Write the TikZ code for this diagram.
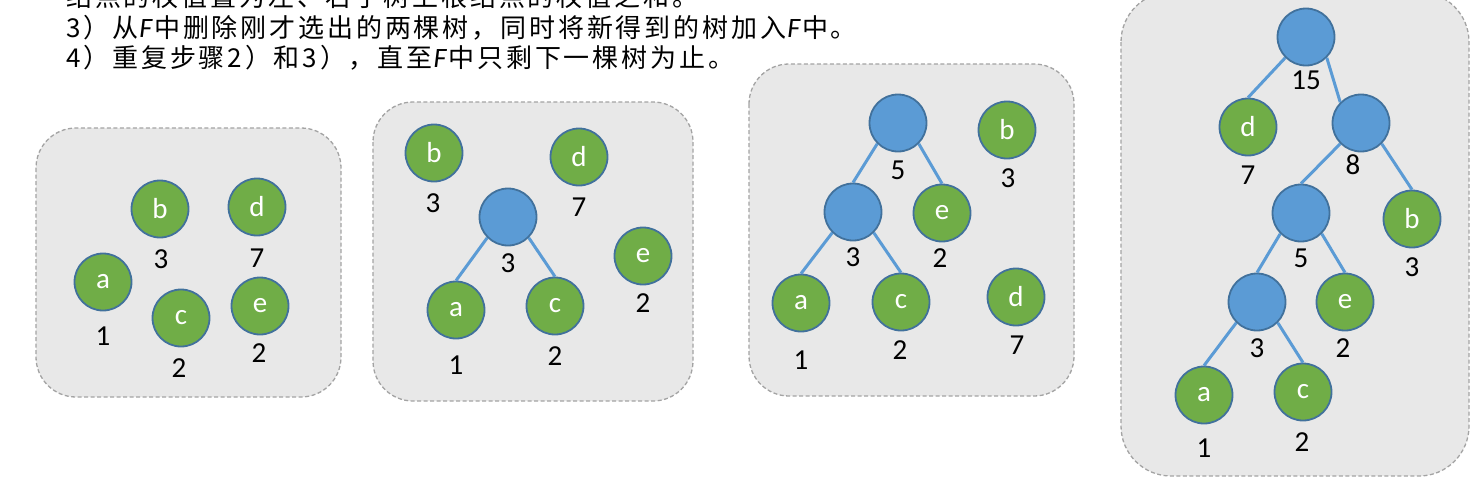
\documentclass[tikz,border=0pt]{standalone}
\usepackage{fontspec}
\setmainfont{Carlito}
\newfontfamily\cjk[LetterSpace=11]{Noto Sans CJK SC}
\newfontfamily\lat{Carlito}
\definecolor{panelfill}{HTML}{E8E8E8}
\definecolor{panelborder}{HTML}{A3A3A3}
\definecolor{leafgreen}{HTML}{70AD47}
\definecolor{nodeblue}{HTML}{5B9BD5}
\definecolor{nodeborder}{HTML}{41719C}
\tikzset{
  panel/.style={draw=panelborder, dash pattern=on 4pt off 2.5pt, line width=1.3pt, fill=panelfill, rounded corners=40pt},
  leaf/.style={circle, fill=leafgreen, draw=nodeborder, line width=1.8pt, minimum size=57pt, inner sep=0pt, text=white, font=\fontsize{29}{32}\selectfont},
  innernode/.style={leaf, fill=nodeblue},
  wt/.style={font=\fontsize{29}{32}\selectfont, text=black, inner sep=0pt},
  edge/.style={draw=nodeblue, line width=3pt},
  txt/.style={anchor=base west, inner sep=0pt, font=\fontsize{26}{30}\selectfont},
}
\newcommand{\itF}{\hspace{1pt}{\lat\fontsize{28}{30}\selectfont\itshape F}\hspace{2pt}}
\begin{document}
\begin{tikzpicture}[x=1pt, y=-1pt]
\clip (0,0) rectangle (1472,480);
\fill[white] (0,0) rectangle (1472,480);

% text lines
\node[txt] (t2) at (66,6) {\cjk 结点的权值置为左、右子树上根结点的权值之和。};
\node[txt] (t3) at (66,37) {\cjk 3）从\itF\cjk 中删除刚才选出的两棵树，同时将新得到的树加入\itF\cjk 中。};
\node[txt] (t4) at (66,67) {\cjk 4）重复步骤2）和3），直至\itF\cjk 中只剩下一棵树为止。};

% red mark
\fill[red] (1377,0) -- (1393,0) -- (1390,10) -- (1385,16) -- (1381,12) -- cycle;

% panels
\draw[panel] (36,128) rectangle (341,397);
\draw[panel] (373,102) rectangle (693,401);
\draw[panel] (749,64) rectangle (1074,396);
\draw[panel, rounded corners=50pt] (1121,-8) rectangle (1469,476);

% panel 1
\node[leaf] (p1b) at (160,209) {b};
\node[leaf] (p1d) at (257,207) {d};
\node[leaf] (p1a) at (103,282) {a};
\node[leaf] (p1c) at (181,318) {c};
\node[leaf] (p1e) at (260,306) {e};
\node[wt] (w1b) at (161,259) {3};
\node[wt] (w1d) at (257,258) {7};
\node[wt] (w1a) at (103,336) {1};
\node[wt] (w1c) at (179,368) {2};
\node[wt] (w1e) at (259,353) {2};

% panel 2
\node[leaf] (p2b) at (434,153) {b};
\node[leaf] (p2d) at (579,157) {d};
\node[innernode] (p2n3) at (508,217) {};
\node[leaf] (p2a) at (456,310) {a};
\node[leaf] (p2c) at (555,306) {c};
\node[leaf] (p2e) at (643,256) {e};
\node[wt] (w2b) at (433,203) {3};
\node[wt] (w2d) at (579,207) {7};
\node[wt] (w2n3) at (508,263) {3};
\node[wt] (w2a) at (456,365) {1};
\node[wt] (w2c) at (555,356) {2};
\node[wt] (w2e) at (643,303) {2};
\draw[edge] (p2n3.south west) -- (p2a.north);
\draw[edge] (p2n3.south east) -- (p2c.north);

% panel 3
\node[innernode] (p3n5) at (898,123) {};
\node[leaf] (p3b) at (1007,130) {b};
\node[innernode] (p3n3) at (853,212) {};
\node[leaf] (p3e) at (942,213) {e};
\node[leaf] (p3a) at (801,303) {a};
\node[leaf] (p3c) at (901,302) {c};
\node[leaf] (p3d) at (1016,297) {d};
\node[wt] (w3n5) at (898,170) {5};
\node[wt] (w3b) at (1008,178) {3};
\node[wt] (w3n3) at (853,257) {3};
\node[wt] (w3e) at (940,258) {2};
\node[wt] (w3a) at (801,360) {1};
\node[wt] (w3c) at (900,350) {2};
\node[wt] (w3d) at (1017,345) {7};
\draw[edge] (p3n5.south west) -- (p3n3.north);
\draw[edge] (p3n5.south east) -- (p3e.north);
\draw[edge] (p3n3.south west) -- (p3a.north);
\draw[edge] (p3n3.south east) -- (p3c.north);

% panel 4
\node[innernode] (p4n15) at (1306,37) {};
\node[leaf] (p4d) at (1248,127) {d};
\node[innernode] (p4n8) at (1361,123) {};
\node[innernode] (p4n5) at (1301,213) {};
\node[leaf] (p4b) at (1412,219) {b};
\node[innernode] (p4n3) at (1257,302) {};
\node[leaf] (p4e) at (1345,302) {e};
\node[leaf] (p4a) at (1204,395) {a};
\node[leaf] (p4c) at (1303,392) {c};
\node[wt] (w4n15) at (1306,80) {15};
\node[wt] (w4d) at (1248,175) {7};
\node[wt] (w4n8) at (1353,165) {8};
\node[wt] (w4n5) at (1301,258) {5};
\node[wt] (w4b) at (1412,267) {3};
\node[wt] (w4n3) at (1257,348) {3};
\node[wt] (w4e) at (1343,348) {2};
\node[wt] (w4a) at (1204,448) {1};
\node[wt] (w4c) at (1302,442) {2};
\draw[edge] (p4n15.south west) -- (p4d.north);
\draw[edge] (p4n15.south east) -- (p4n8.north west);
\draw[edge] (p4n8.south west) -- (p4n5.north);
\draw[edge] (p4n8.south east) -- (p4b.north);
\draw[edge] (p4n5.south west) -- (p4n3.north);
\draw[edge] (p4n5.south east) -- (p4e.north);
\draw[edge] (p4n3.south west) -- (p4a.north);
\draw[edge] (p4n3.south east) -- (p4c.north);
\end{tikzpicture}
\end{document}
